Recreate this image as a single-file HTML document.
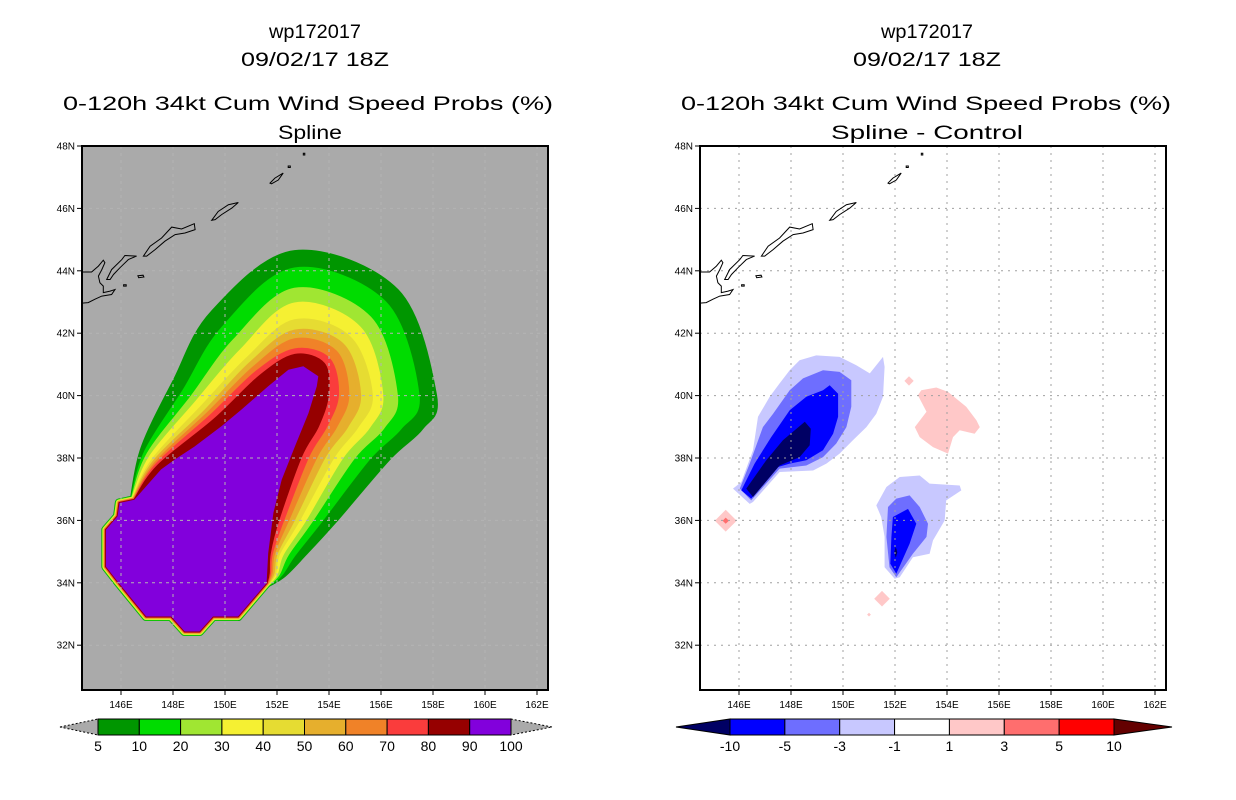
<!DOCTYPE html>
<html><head><meta charset="utf-8"><style>
html,body{margin:0;padding:0;background:#fff;}
svg{display:block;}
text{font-family:"Liberation Sans",sans-serif;fill:#000;}
</style></head><body>
<svg id="chart" width="1236" height="800" viewBox="0 0 1236 800" xmlns="http://www.w3.org/2000/svg">
<g font-size="19">
<text x="315" y="38" text-anchor="middle" textLength="92" lengthAdjust="spacingAndGlyphs">wp172017</text>
<text x="315" y="66" text-anchor="middle" textLength="148" lengthAdjust="spacingAndGlyphs">09/02/17 18Z</text>
<text x="308" y="110" text-anchor="middle" textLength="490" lengthAdjust="spacingAndGlyphs">0-120h 34kt Cum Wind Speed Probs (%)</text>
<text x="310" y="139" text-anchor="middle" textLength="64" lengthAdjust="spacingAndGlyphs">Spline</text>
</g>
<g font-size="19">
<text x="927" y="38" text-anchor="middle" textLength="92" lengthAdjust="spacingAndGlyphs">wp172017</text>
<text x="927" y="66" text-anchor="middle" textLength="148" lengthAdjust="spacingAndGlyphs">09/02/17 18Z</text>
<text x="926" y="110" text-anchor="middle" textLength="490" lengthAdjust="spacingAndGlyphs">0-120h 34kt Cum Wind Speed Probs (%)</text>
<text x="927" y="139" text-anchor="middle" textLength="192" lengthAdjust="spacingAndGlyphs">Spline - Control</text>
</g>
<g id="leftPanel"></g>
<g id="rightPanel"></g>
<g id="leftBar"></g>
<g id="rightBar"></g>
</svg>
<script>
// ---- data ----
const latTicks = [48,46,44,42,40,38,36,34,32];
const lonTicks = [146,148,150,152,154,156,158,160,162];
const probLevels = [5,10,20,30,40,50,60,70,80,90,100];
const probColors = ['#009600','#00dc00','#a0e632','#f5f032','#e6dc32','#e6af2d','#f08228','#fa3c3c','#960000','#8200dc'];
// 90% (purple) region boundary [lon,lat]
const core90 = [[148.45,32.44],[149.02,32.44],[149.54,32.92],[150.50,32.92],[151.60,33.99],[151.66,34.95],[151.86,36.24],[152.18,37.30],[152.69,38.37],[153.21,39.44],[153.53,40.30],[153.59,40.62],[153.01,40.94],[152.44,40.83],[151.66,40.30],[150.63,39.55],[149.86,39.02],[148.83,38.37],[148.06,37.95],[147.54,37.63],[146.51,36.66],[145.94,36.56],[145.87,36.13],[145.42,35.70],[145.42,34.52],[145.87,34.04],[146.97,32.92],[147.93,32.92]];
// shared SW edge of all contours
const swEdge = [[146.51,36.66],[145.94,36.56],[145.87,36.13],[145.42,35.70],[145.42,34.52],[145.87,34.04],[146.97,32.92],[147.93,32.92],[148.45,32.44],[149.02,32.44],[149.54,32.92],[150.50,32.92],[151.60,33.99]];
// anchors on core edge + outward direction (screen)
const anchorPts = [[151.62,34.31],[151.66,34.95],[151.86,36.02],[152.54,38.05],[153.08,39.02],[153.46,40.02],[153.46,40.73],[152.69,40.89],[151.66,40.30],[149.86,39.02],[147.54,37.63]];
const anchorDir = [[1,0],[1,0],[1,0],[1,0],[1,0],[1,0],[0.7,-0.7],[0,-1],[-0.6,-0.8],[-0.7,-0.7],[-0.6,-0.8]];
// outward distance of each contour (levels 5..80) at each anchor
const dist5  = [.55,1.2,2.1,3.4,4.05,4.15,4.05,4.0,3.18,2.24,.94];
const dist10 = [.42,.85,1.6,2.7,3.3,3.55,3.45,3.4,2.53,1.76,.76];
const dist20 = [.33,.62,1.28,2.15,2.7,2.8,2.7,2.7,1.94,1.41,.65];
const dist30 = [.27,.45,1.05,1.75,2.2,2.3,2.2,2.2,1.53,1.18,.53];
const dist40 = [.22,.33,.85,1.45,1.8,1.95,1.72,1.62,1.18,.94,.41];
const dist50 = [.18,.26,.68,1.15,1.45,1.55,1.38,1.27,1.0,.76,.35];
const dist60 = [.13,.18,.5,.88,1.08,1.15,1.04,.98,.82,.65,.29];
const dist70 = [.09,.12,.34,.6,.74,.8,.7,.64,.65,.53,.24];
const dist80 = [.06,.06,.18,.36,.46,.46,.46,.46,.47,.35,.18];
const levelDists = [dist5,dist10,dist20,dist30,dist40,dist50,dist60,dist70,dist80];

const diffLabels = ['-10','-5','-3','-1','1','3','5','10'];
const diffColors = ['#000064','#0000ff','#6e6eff','#c8c8ff','#ffffff','#ffc8c8','#ff6e6e','#ff0000','#640000'];
const bigNeg1 = [[145.77,37.02],[146.09,37.23],[146.54,38.25],[146.73,39.32],[147.18,39.96],[147.56,40.39],[147.95,40.81],[148.33,41.13],[148.97,41.29],[149.87,41.24],[150.51,40.97],[151.03,40.71],[151.54,41.24],[151.60,40.92],[151.54,39.96],[151.28,39.42],[150.90,38.99],[150.38,38.57],[149.87,38.14],[149.36,37.82],[148.85,37.60],[147.56,37.55],[146.54,36.59],[146.41,36.53]];
const bigNeg3 = [[146.03,37.02],[146.41,37.82],[146.92,38.99],[147.31,39.42],[147.95,40.17],[148.46,40.55],[149.23,40.81],[149.87,40.76],[150.32,40.49],[150.32,39.64],[150.13,38.99],[149.74,38.46],[149.23,38.03],[148.59,37.76],[147.56,37.66],[146.47,36.64]];
const bigNeg5 = [[146.09,36.96],[146.60,37.82],[147.24,38.67],[147.95,39.53],[148.59,39.96],[149.23,40.17],[149.49,40.33],[149.81,40.06],[149.81,39.32],[149.62,38.78],[149.23,38.25],[148.59,37.93],[147.95,37.82],[147.50,37.71],[146.47,36.70]];
const bigNeg10 = [[146.28,37.02],[147.05,37.93],[147.69,38.57],[148.53,39.16],[148.76,38.94],[148.72,38.41],[148.33,38.03],[147.56,37.76],[146.54,36.75]];
const smallNeg1 = [[151.28,36.48],[151.67,37.07],[152.18,37.39],[152.95,37.44],[153.33,37.18],[154.49,37.12],[154.55,36.96],[153.97,36.64],[153.91,36.00],[153.46,35.36],[153.33,34.93],[152.69,34.82],[152.18,34.18],[151.99,34.13],[151.60,34.50],[151.60,35.47],[151.47,36.11]];
const smallNeg3 = [[151.73,36.43],[152.05,36.70],[152.56,36.80],[152.95,36.43],[153.27,35.89],[153.21,35.47],[152.69,34.93],[152.05,34.18],[151.79,34.50],[151.67,35.47]];
const smallNeg5 = [[151.92,36.11],[152.50,36.37],[152.82,35.89],[152.56,35.25],[152.05,34.29],[151.82,34.61],[151.86,35.47]];
const smallNeg10 = [[152.03,35.15],[152.09,34.98],[152.03,34.80],[151.97,34.98]];
const pinkBlob = [[152.88,40.01],[153.01,40.17],[153.59,40.26],[154.04,40.12],[154.74,39.64],[155.13,39.21],[155.26,38.99],[155.06,38.78],[154.49,38.89],[154.23,38.67],[154.04,38.14],[153.46,38.35],[152.95,38.67],[152.76,38.99],[153.21,39.48]];
const pinkDots = [[152.54,40.47,0.15],[145.49,35.99,0.35],[151.50,33.49,0.25],[151.0,32.98,0.06]];
const redDots = [[145.49,35.99,0.1]];

// coastlines
const hokkaido = [[144.49,43.96],[144.87,43.96],[145.13,44.15],[145.32,44.34],[145.38,44.26],[145.26,44.04],[145.13,43.83],[145.19,43.62],[145.32,43.51],[145.32,43.30],[145.58,43.35],[145.77,43.40],[145.64,43.24],[145.26,43.19],[145.00,43.09],[144.74,42.98],[144.49,42.96]];
const islands = [
 [[145.45,43.72],[145.64,44.04],[146.03,44.36],[146.15,44.49],[146.60,44.47],[146.28,44.36],[145.96,44.10],[145.71,43.88],[145.58,43.72]],
 [[146.86,44.47],[147.12,44.79],[147.56,45.05],[147.95,45.40],[148.33,45.34],[148.82,45.51],[148.85,45.32],[148.46,45.21],[148.08,45.16],[147.69,44.95],[147.31,44.68],[146.99,44.47]],
 [[149.49,45.62],[149.74,45.90],[150.13,46.12],[150.51,46.19],[150.26,46.01],[149.87,45.80],[149.62,45.64]],
 [[151.73,46.81],[151.92,46.97],[152.24,47.13],[152.05,46.91],[151.79,46.79]],
 [[146.65,43.84],[146.85,43.86],[146.88,43.80],[146.68,43.78]],
 [[152.43,47.36],[152.51,47.36],[152.51,47.31],[152.43,47.31]],
 [[153.01,47.77],[153.07,47.77],[153.07,47.71],[153.01,47.71]],
 [[146.10,43.55],[146.20,43.55],[146.20,43.51],[146.10,43.51]]
];

// ---- drawing ----
const NS='http://www.w3.org/2000/svg';
const LON0=144.5, LAT0=48, PXLON=26, PXLAT=31.2, TOP=146, W=466, H=544;
function mk(tag, attrs, parent){const e=document.createElementNS(NS,tag);for(const k in attrs)e.setAttribute(k,attrs[k]);parent.appendChild(e);return e;}
function axes(x0){return {x:lon=>x0+(lon-LON0)*PXLON, y:lat=>TOP+(LAT0-lat)*PXLAT};}
function ptsStr(ring,ax){return ring.map(p=>ax.x(p[0]).toFixed(1)+','+ax.y(p[1]).toFixed(1)).join(' ');}

function drawFrame(g,x0,bg){
  const ax=axes(x0);
  const clipId='clip'+x0;
  const cp=mk('clipPath',{id:clipId},g);
  mk('rect',{x:x0,y:TOP,width:W,height:H},cp);
  const bgR=mk('rect',{x:x0,y:TOP,width:W,height:H,fill:bg},g);
  
  
  const inner=mk('g',{'clip-path':'url(#'+clipId+')'},g);
  
  
  return {ax,inner};
}
function drawGridAndAxes(g,x0,inner,ax,gridColor,dash){
  const grid=mk('g',{stroke:gridColor,'stroke-width':1,'stroke-dasharray':dash,fill:'none'},inner);
  
  
  lonTicks.forEach(l=>{const X=ax.x(l);mk('line',{x1:X,y1:TOP,x2:X,y2:TOP+H},grid);});
  latTicks.forEach(l=>{const Y=ax.y(l);mk('line',{x1:x0,y1:Y,x2:x0+W,y2:Y},grid);});
  const coast=mk('g',{stroke:'#000','stroke-width':1,fill:'none'},inner);
  
  
  mk('polyline',{points:ptsStr(hokkaido,ax)},coast);
  islands.forEach(r=>mk('polygon',{points:ptsStr(r,ax)},coast));
  const fr=mk('rect',{x:x0,y:TOP,width:W,height:H,fill:'none',stroke:'#000','stroke-width':2},g);
  
  
  const ticks=mk('g',{stroke:'#000','stroke-width':1},g);
  
  
  const labs=mk('g',{'font-size':10},g);
  
  
  latTicks.forEach(l=>{const Y=ax.y(l);mk('line',{x1:x0-5,y1:Y,x2:x0,y2:Y},ticks);
    const t=mk('text',{x:x0-7,y:Y+3.5,'text-anchor':'end'},labs);t.textContent=l+'N';
    
    });
  lonTicks.forEach(l=>{const X=ax.x(l);mk('line',{x1:X,y1:TOP+H,x2:X,y2:TOP+H+5},ticks);
    const t=mk('text',{x:X,y:TOP+H+18,'text-anchor':'middle'},labs);t.textContent=l+'E';
    
    });
}

// left panel
(function(){
  const g=document.getElementById('leftPanel'), x0=82;
  const {ax,inner}=drawFrame(g,x0,'#aaaaaa');
  const cont=mk('g',{},inner);
  
  
  levelDists.forEach((d,i)=>{
    const pts=[];
    pts.push([ax.x(swEdge[swEdge.length-1][0]), ax.y(swEdge[swEdge.length-1][1])]);
    anchorPts.forEach((a,j)=>{
      const off=d[j]*28.3;
      pts.push([ax.x(a[0])+anchorDir[j][0]*off, ax.y(a[1])+anchorDir[j][1]*off]);
    });
    swEdge.forEach(p=>pts.push([ax.x(p[0]),ax.y(p[1])]));
    let dStr='M'+pts[0][0].toFixed(1)+','+pts[0][1].toFixed(1);
    const n=anchorPts.length+1;
    for(let k=0;k<n;k++){
      const p0=pts[Math.max(k-1,0)],p1=pts[k],p2=pts[k+1],p3=pts[Math.min(k+2,n)];
      const c1=[p1[0]+(p2[0]-p0[0])/6,p1[1]+(p2[1]-p0[1])/6];
      const c2=[p2[0]-(p3[0]-p1[0])/6,p2[1]-(p3[1]-p1[1])/6];
      dStr+=' C'+c1.map(v=>v.toFixed(1)).join(',')+' '+c2.map(v=>v.toFixed(1)).join(',')+' '+p2[0].toFixed(1)+','+p2[1].toFixed(1);
    }
    for(let k=n+1;k<pts.length;k++)dStr+=' L'+pts[k][0].toFixed(1)+','+pts[k][1].toFixed(1);
    dStr+=' Z';
    const p=mk('path',{d:dStr,fill:probColors[i],stroke:probColors[i],'stroke-width':((9-i)*0.9+1).toFixed(1),'stroke-linejoin':'round'},cont);
    
    
  });
  const core=mk('polygon',{points:ptsStr(core90,ax),fill:probColors[9]},cont);
  
  
  drawGridAndAxes(g,x0,inner,ax,'#b4b4b4','3,4');
})();

// right panel
(function(){
  const g=document.getElementById('rightPanel'), x0=700;
  const {ax,inner}=drawFrame(g,x0,'#ffffff');
  const cont=mk('g',{},inner);
  
  
  const shapes=[[bigNeg1,3,'neg-1-west'],[bigNeg3,2,'neg-3-west'],[bigNeg5,1,'neg-5-west'],[bigNeg10,0,'neg-10-west'],
    [smallNeg1,3,'neg-1-south'],[smallNeg3,2,'neg-3-south'],[smallNeg5,1,'neg-5-south'],[smallNeg10,0,'neg-10-south'],[pinkBlob,5,'pos-1-east']];
  shapes.forEach(s=>{
    const p=mk('polygon',{points:ptsStr(s[0],ax),fill:diffColors[s[1]]},cont);
    
    
  });
  function dot(d,col){
    const r=[[d[0],d[1]+d[2]],[d[0]+d[2]*1.2,d[1]],[d[0],d[1]-d[2]],[d[0]-d[2]*1.2,d[1]]];
    const p=mk('polygon',{points:ptsStr(r,ax),fill:col},cont);
    
    
  }
  pinkDots.forEach(d=>dot(d,diffColors[5]));
  redDots.forEach(d=>dot(d,diffColors[6]));
  drawGridAndAxes(g,x0,inner,ax,'#a0a0a0','2,5');
})();

// colorbars
function colorbar(gid,x0,x1,triL,triR,colors,labels,fillL,fillR){
  const g=document.getElementById(gid);
  const y0=719,y1=735,ym=727;
  const n=colors.length, bw=(x1-x0)/n;
  const tl=mk('polygon',{points:`${triL},${ym} ${x0},${y0} ${x0},${y1}`,fill:fillL,stroke:'#000','stroke-width':1,'stroke-dasharray':fillL==='#aaaaaa'?'2,2':'none'},g);
  
  
  const tr=mk('polygon',{points:`${triR},${ym} ${x1},${y0} ${x1},${y1}`,fill:fillR,stroke:'#000','stroke-width':1,'stroke-dasharray':fillR==='#aaaaaa'?'2,2':'none'},g);
  
  
  colors.forEach((c,i)=>{
    const r=mk('rect',{x:x0+i*bw,y:y0,width:bw,height:y1-y0,fill:c,stroke:'#000','stroke-width':1},g);
    
    
  });
  labels.forEach((l,i)=>{
    const t=mk('text',{x:x0+i*(x1-x0)/(labels.length-1),y:751,'text-anchor':'middle','font-size':14},g);
    t.textContent=l;
    
    
  });
}
colorbar('leftBar',98,511,60,552,probColors,probLevels.map(String),'#aaaaaa','#aaaaaa');
colorbar('rightBar',730,1114,676,1172,diffColors.slice(1,8),diffLabels,diffColors[0],diffColors[8]);
</script>
</body></html>
